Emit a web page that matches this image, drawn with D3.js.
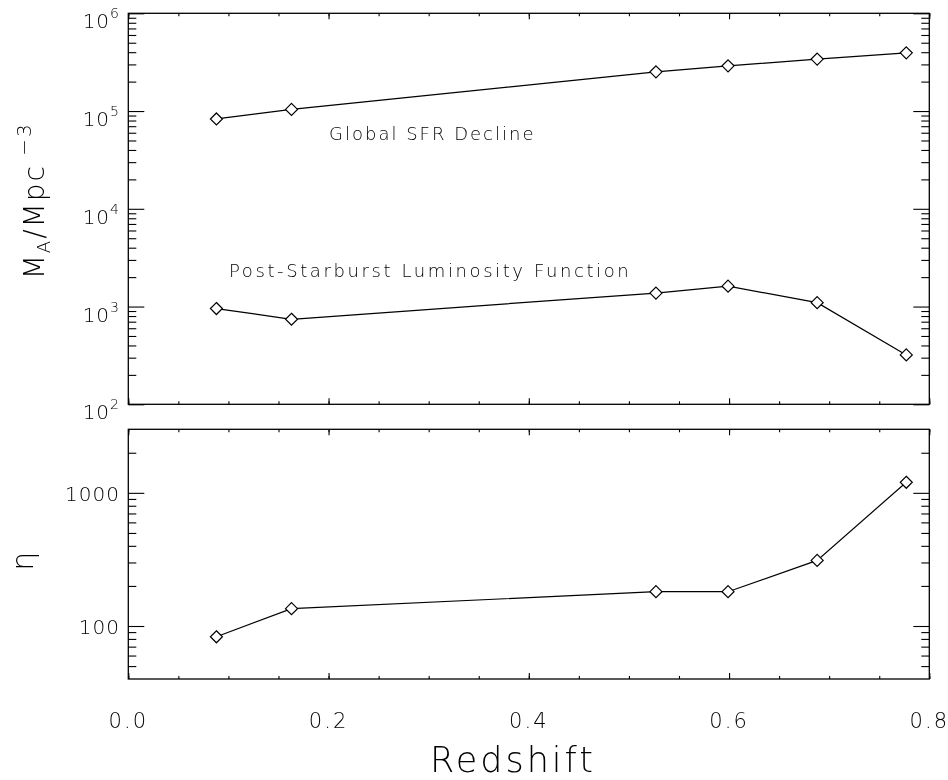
<!DOCTYPE html>
<html>
<head>
<meta charset="utf-8">
<script src="https://cdn.jsdelivr.net/npm/d3@7"></script>
<style>
  html, body { margin: 0; padding: 0; background: #fff; }
  svg { display: block; will-change: transform; }
  text { font-family: "DejaVu Sans", "Liberation Sans", sans-serif; font-weight: 200; fill: #000; }
</style>
</head>
<body>
<svg id="chart" width="948" height="780"></svg>
<script>
// Redshift of each sample bin
const redshift = [0.088, 0.163, 0.527, 0.599, 0.688, 0.777];
// Mass density (M_A / Mpc^-3) implied by the global SFR decline
const globalSFR = [83000, 104000, 252000, 290000, 340000, 394000];
// Mass density implied by the post-starburst luminosity function
const postStarburst = [954, 741, 1374, 1617, 1096, 320];
// Ratio eta between the two estimates
const eta = [83, 135, 181, 181, 311, 1200];

const xTicks = [0.0, 0.2, 0.4, 0.6, 0.8];
const xMinorTicks = d3.range(0, 0.8001, 0.05);
const topDecades = [1e2, 1e3, 1e4, 1e5, 1e6];
const bottomMajor = [100, 1000];

const svg = d3.select("#chart");

const left = 128.3, right = 929.3;
const topPanel = { y0: 13.3, y1: 404.3 };
const botPanel = { y0: 429.3, y1: 679 };

const x = d3.scaleLinear().domain([0, 0.8]).range([left, right]);
const yTop = d3.scaleLog().domain([1e2, 1e6]).range([topPanel.y1, topPanel.y0]);
const yBot = d3.scaleLog().domain([40, 3000]).range([botPanel.y1, botPanel.y0]);

// minor log ticks (2..9 x decade) inside a domain
function minorLog(domain) {
  const out = [];
  for (let e = -1; e <= 7; e++) {
    for (let m = 2; m <= 9; m++) {
      const v = m * Math.pow(10, e);
      if (v > domain[0] * 1.0001 && v < domain[1] * 0.9999) out.push(v);
    }
  }
  return out;
}

// equal-sided diamond marker
const diamondType = {
  draw(ctx, size) {
    const r = Math.sqrt(size / 2);
    ctx.moveTo(0, -r); ctx.lineTo(r, 0); ctx.lineTo(0, r); ctx.lineTo(-r, 0); ctx.closePath();
  }
};
const marker = d3.symbol().type(diamondType).size(72);

function drawPanel(yScale, panel, majors, minors) {
  const g = svg.append("g");
  const strip = sel => { sel.select(".domain").remove(); sel.selectAll("text").remove();
    sel.selectAll("line").attr("stroke", "#000").attr("stroke-width", 1.1); };

  // x ticks, bottom and top edges, pointing inward
  g.append("g").attr("transform", `translate(0,${panel.y1})`)
    .call(d3.axisBottom(x).tickValues(xMinorTicks).tickSize(-3)).call(strip);
  g.append("g").attr("transform", `translate(0,${panel.y1})`)
    .call(d3.axisBottom(x).tickValues(xTicks).tickSize(-6)).call(strip);
  g.append("g").attr("transform", `translate(0,${panel.y0})`)
    .call(d3.axisTop(x).tickValues(xMinorTicks).tickSize(-3)).call(strip);
  g.append("g").attr("transform", `translate(0,${panel.y0})`)
    .call(d3.axisTop(x).tickValues(xTicks).tickSize(-6)).call(strip);

  // y ticks, left and right edges
  g.append("g").attr("transform", `translate(${left},0)`)
    .call(d3.axisLeft(yScale).tickValues(minors).tickSize(-8)).call(strip);
  g.append("g").attr("transform", `translate(${left},0)`)
    .call(d3.axisLeft(yScale).tickValues(majors).tickSize(-16)).call(strip);
  g.append("g").attr("transform", `translate(${right},0)`)
    .call(d3.axisRight(yScale).tickValues(minors).tickSize(-8)).call(strip);
  g.append("g").attr("transform", `translate(${right},0)`)
    .call(d3.axisRight(yScale).tickValues(majors).tickSize(-16)).call(strip);

  // frame
  g.append("rect")
    .attr("x", left).attr("y", panel.y0)
    .attr("width", right - left).attr("height", panel.y1 - panel.y0)
    .attr("fill", "none").attr("stroke", "#000").attr("stroke-width", 1.3);
  return g;
}

function drawSeries(g, yScale, values) {
  const line = d3.line().x((d, i) => x(redshift[i])).y(d => yScale(d));
  g.append("path").datum(values)
    .attr("d", line).attr("fill", "none").attr("stroke", "#000").attr("stroke-width", 1.2);
  g.selectAll(null).data(values).enter().append("path")
    .attr("d", marker)
    .attr("transform", (d, i) => `translate(${x(redshift[i])},${yScale(d)})`)
    .attr("fill", "#fff").attr("stroke", "#000").attr("stroke-width", 1.2);
}

// ---- top panel ----
const gTop = drawPanel(yTop, topPanel, topDecades, minorLog(yTop.domain()));
drawSeries(gTop, yTop, globalSFR);
drawSeries(gTop, yTop, postStarburst);

topDecades.forEach(v => {
  const t = svg.append("text")
    .attr("x", 120).attr("y", yTop(v) + 15)
    .attr("text-anchor", "end").attr("font-size", 20).attr("letter-spacing", 1);
  t.append("tspan").text("10");
  t.append("tspan").attr("dy", -10).attr("font-size", 14).text(Math.round(Math.log10(v)));
});

svg.append("text").attr("x", 329).attr("y", 140)
  .attr("font-size", 18).attr("letter-spacing", 2)
  .text("Global SFR Decline");
svg.append("text").attr("x", 229).attr("y", 277)
  .attr("font-size", 18).attr("letter-spacing", 2.6)
  .text("Post-Starburst Luminosity Function");

// y title of top panel
const yt = svg.append("text")
  .attr("transform", `translate(44,${(topPanel.y0 + topPanel.y1) / 2 - 8}) rotate(-90)`)
  .attr("text-anchor", "middle").attr("font-size", 28).attr("letter-spacing", 2);
yt.append("tspan").text("M");
yt.append("tspan").attr("dy", 6).attr("font-size", 18).text("A");
yt.append("tspan").attr("dy", -6).text("/Mpc");
yt.append("tspan").attr("dy", -13).attr("font-size", 20).text(" \u22123");

// ---- bottom panel ----
const gBot = drawPanel(yBot, botPanel, bottomMajor, minorLog(yBot.domain()));
drawSeries(gBot, yBot, eta);

bottomMajor.forEach(v => {
  svg.append("text")
    .attr("x", 120).attr("y", yBot(v) + 8)
    .attr("text-anchor", "end").attr("font-size", 20).attr("letter-spacing", 1)
    .text(v);
});

svg.append("text")
  .attr("transform", `translate(33,${(botPanel.y0 + botPanel.y1) / 2 + 7}) rotate(-90)`)
  .attr("text-anchor", "middle").attr("font-size", 30)
  .text("\u03B7");

// x tick labels and title
xTicks.forEach(v => {
  svg.append("text")
    .attr("x", x(v)).attr("y", 728)
    .attr("text-anchor", "middle").attr("font-size", 21).attr("letter-spacing", 2)
    .text(v.toFixed(1));
});
svg.append("text")
  .attr("x", 513).attr("y", 772)
  .attr("text-anchor", "middle").attr("font-size", 35).attr("letter-spacing", 3)
  .text("Redshift");
</script>
</body>
</html>
